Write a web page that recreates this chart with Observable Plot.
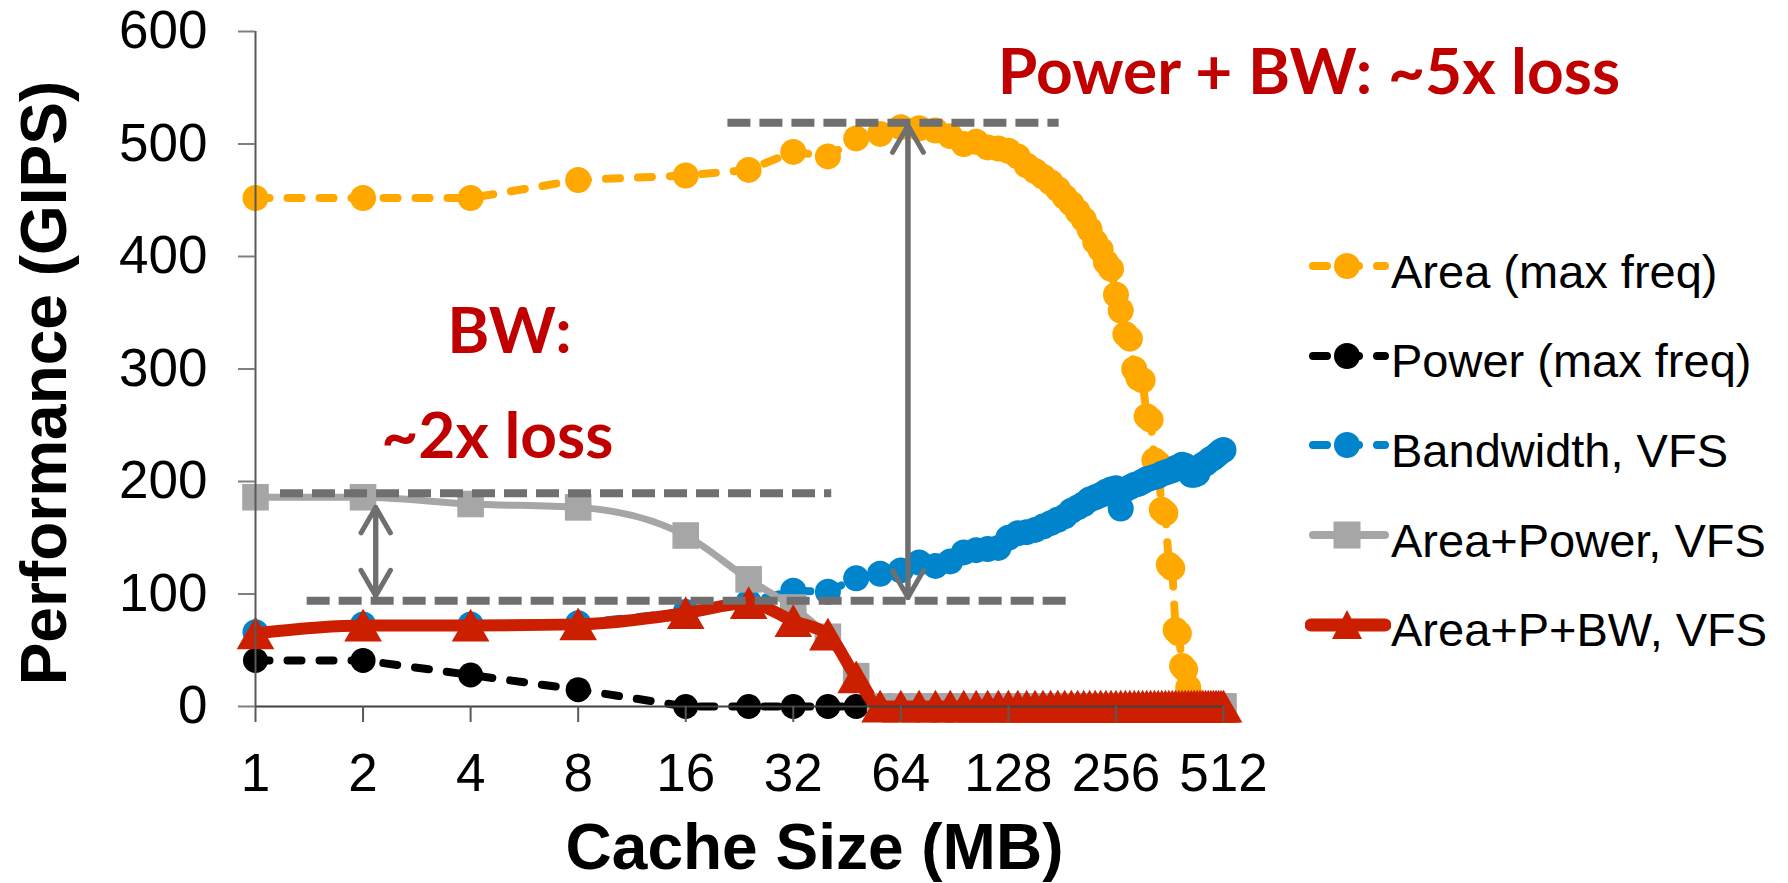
<!DOCTYPE html>
<html>
<head>
<meta charset="utf-8">
<script src="https://cdn.jsdelivr.net/npm/d3@7"></script>
<script src="https://cdn.jsdelivr.net/npm/@observablehq/plot@0.6"></script>
<style>
  html, body { margin: 0; padding: 0; background: #ffffff; }
  #wrap { position: relative; width: 1788px; height: 883px; overflow: hidden; font-family: "Liberation Sans", Arial, sans-serif; }
  .item { position: absolute; left: 1305px; height: 60px; display: flex; align-items: center; white-space: nowrap; }
  .item span { font-size: 47px; color: #000; position: relative; top: 5px; }
  .item svg { display: block; }
</style>
</head>
<body>
<div id="wrap"></div>
<script>
// ---- data ----
const cacheSizes = [1, 2, 4, 8, 16,
  24, 32, 40, 48, 56, 64, 72, 80, 88, 96,
  104, 112, 120, 128, 136, 144, 152, 160, 168, 176,
  184, 192, 200, 208, 216, 224, 232, 240, 248, 256,
  264, 272, 280, 288, 296, 304, 312, 320, 328, 336,
  344, 352, 360, 368, 376, 384, 392, 400, 408, 416,
  424, 432, 440, 448, 456, 464, 472, 480, 488, 496,
  504, 512];

const areaMaxFreq = [452, 452, 452, 468, 472,
  477, 493, 489, 505, 509, 515, 514, 512, 507, 500,
  502, 497, 496, 494, 489, 481, 476, 471, 466, 460,
  453, 447, 440, 433, 424, 413, 406, 395, 389, 366,
  352, 331, 327, 300, 292, 290, 258, 255, 219, 216,
  175, 172, 126, 123, 68, 65, 36, 33, 17, 8,
  0, 0, 0, 0, 0, 0, 0, 0, 0, 0,
  0, 0];

const powerSizes = [1, 2, 4, 8, 16, 24, 32, 40, 48];
const powerMaxFreq = [41, 41, 28, 15, 0, 0, 0, 0, 0];

const bandwidthVFS = [66, 73, 73, 74, 84,
  93, 103, 102, 114, 118, 121, 128, 125, 129, 137,
  139, 140, 141, 150, 154, 155, 157, 160, 163, 166,
  169, 174, 177, 180, 184, 186, 188, 191, 193, 194,
  176, 193, 195, 197, 198, 200, 202, 203, 204, 205,
  207, 208, 209, 210, 212, 213, 215, 214, 209, 206,
  206, 207, 212, 215, 216, 218, 220, 221, 223, 225,
  227, 228];

const areaPowerVFS = [186, 186, 180, 177, 152,
  113, 88, 62, 27, 0, 0, 0, 0, 0, 0,
  0, 0, 0, 0, 0, 0, 0, 0, 0, 0,
  0, 0, 0, 0, 0, 0, 0, 0, 0, 0,
  0, 0, 0, 0, 0, 0, 0, 0, 0, 0,
  0, 0, 0, 0, 0, 0, 0, 0, 0, 0,
  0, 0, 0, 0, 0, 0, 0, 0, 0, 0,
  0, 0];

const areaPBwVFS = [65, 72, 72, 73, 83,
  92, 76, 64, 26, 0, 0, 0, 0, 0, 0,
  0, 0, 0, 0, 0, 0, 0, 0, 0, 0,
  0, 0, 0, 0, 0, 0, 0, 0, 0, 0,
  0, 0, 0, 0, 0, 0, 0, 0, 0, 0,
  0, 0, 0, 0, 0, 0, 0, 0, 0, 0,
  0, 0, 0, 0, 0, 0, 0, 0, 0, 0,
  0, 0];

const seriesNames = ["Area (max freq)", "Power (max freq)", "Bandwidth, VFS", "Area+Power, VFS", "Area+P+BW, VFS"];
const xTicks = [1, 2, 4, 8, 16, 32, 64, 128, 256, 512];
const yTicks = [0, 100, 200, 300, 400, 500, 600];
const xTitle = "Cache Size (MB)";
const yTitle = "Performance (GIPS)";

// reference (dashed) levels and arrows, in data units
const refLevels = [519, 189.5, 94];
const refFrom = [21, 1.175, 1.395];
const refTo = [177.5, 41, 187];
const arrowX = [2.17, 67];
const arrowLow = [98.4, 97];
const arrowHigh = [177, 516.4];
const noteTexts = ["Power + BW: ~5x loss", "BW:", "~2x loss"];
const noteX = [888, 5.14, 4.75];
const noteY = [563, 332, 239];

// ---- styles ----
const colors = ["#FFA800", "#000000", "#0084CC", "#A6A6A6", "#CC1F00"];
const annoColor = "#6F6F6F";
const noteColor = "#C00000";
const noteWidths = {"Power + BW: ~5x loss": 656, "BW:": 122, "~2x loss": 240};

// ---- tables ----
const rows = (xs, ys) => xs.map((x, i) => ({x, y: ys[i]}));
const orange = rows(cacheSizes, areaMaxFreq);
const black = rows(powerSizes, powerMaxFreq);
const blue = rows(cacheSizes, bandwidthVFS);
const gray = rows(cacheSizes, areaPowerVFS);
const red = rows(cacheSizes, areaPBwVFS);
const refs = refLevels.map((y, i) => ({y, x1: refFrom[i], x2: refTo[i]}));
const arrowsUp = arrowX.map((x, i) => ({x, y1: arrowLow[i], y2: arrowHigh[i]}));
const arrowsDown = arrowX.map((x, i) => ({x, y1: arrowHigh[i], y2: arrowLow[i]}));
const notes = noteTexts.map((t, i) => ({text: t, x: noteX[i], y: noteY[i]}));

const dashed = {strokeWidth: 8, strokeDasharray: "14,18", strokeLinecap: "round"};

const chart = Plot.plot({
  width: 1788,
  height: 883,
  marginLeft: 255,
  marginRight: 565,
  marginTop: 31,
  marginBottom: 177,
  style: {fontFamily: "'Liberation Sans', Arial, sans-serif", background: "#ffffff", color: "#000"},
  x: {type: "log", base: 2, domain: [1, 512]},
  y: {domain: [0, 600]},
  marks: [
    // series (Excel order)
    Plot.line(orange, {x: "x", y: "y", stroke: colors[0], ...dashed}),
    Plot.dot(orange, {x: "x", y: "y", r: 13, fill: colors[0]}),
    Plot.line(black, {x: "x", y: "y", stroke: colors[1], ...dashed}),
    Plot.dot(black, {x: "x", y: "y", r: 12.5, fill: colors[1]}),
    Plot.line(blue, {x: "x", y: "y", stroke: colors[2], ...dashed}),
    Plot.dot(blue, {x: "x", y: "y", r: 13, fill: colors[2]}),
    Plot.line(gray, {x: "x", y: "y", stroke: colors[3], strokeWidth: 7, curve: "monotone-x"}),
    Plot.dot(gray, {x: "x", y: "y", r: 15, symbol: "square", fill: colors[3]}),
    Plot.line(red, {x: "x", y: "y", stroke: colors[4], strokeWidth: 12, curve: "monotone-x"}),
    Plot.dot(red, {x: "x", y: "y", r: 14, symbol: "triangle", fill: colors[4], dy: 5}),
    // axes lines
    Plot.ruleX([1], {y1: 0, y2: 600, stroke: "#595959", strokeWidth: 2}),
    Plot.ruleY([0], {x1: 1, x2: 512, stroke: "#404040", strokeWidth: 2}),
    Plot.axisX({ticks: xTicks, tickFormat: d => String(d), tickSize: 16, tickPadding: 31, fontSize: 53, label: null, stroke: "#595959", strokeWidth: 2}),
    Plot.axisY({ticks: yTicks, tickFormat: d => String(d), tickSize: 17, tickPadding: 31, fontSize: 53, label: null, stroke: "#7f7f7f", strokeWidth: 2}),
    // annotations
    Plot.ruleY(refs, {y: "y", x1: "x1", x2: "x2", stroke: annoColor, strokeWidth: 8, strokeDasharray: "23,9"}),
    Plot.arrow(arrowsUp, {x1: "x", x2: "x", y1: "y1", y2: "y2", stroke: annoColor, strokeWidth: 5, headLength: 9.3, headAngle: 60, strokeLinecap: "round", strokeLinejoin: "round"}),
    Plot.arrow(arrowsDown, {x1: "x", x2: "x", y1: "y1", y2: "y2", stroke: annoColor, strokeWidth: 5, headLength: 9.3, headAngle: 60, strokeLinecap: "round", strokeLinejoin: "round"}),
    Plot.text(notes, {x: "x", y: "y", text: "text", fill: noteColor, fontSize: 64, fontWeight: "bold", fontFamily: "Lato, 'Open Sans', sans-serif", ariaLabel: "notes"}),
    // titles
    Plot.text([xTitle], {frameAnchor: "bottom", lineAnchor: "middle", textAnchor: "middle", dx: 75, dy: 142, fontSize: 64, fontWeight: "bold"}),
    Plot.text([yTitle], {frameAnchor: "left", lineAnchor: "middle", textAnchor: "middle", rotate: -90, dx: -210, dy: 14, fontSize: 64, fontWeight: "bold"})
  ]
});

// fit the red annotation texts to the widths seen in the reference
chart.querySelectorAll('g[aria-label="notes"] text').forEach(t => {
  const w = noteWidths[t.textContent];
  if (w) { t.setAttribute("textLength", w); t.setAttribute("lengthAdjust", "spacingAndGlyphs"); }
});

const wrap = document.getElementById("wrap");
wrap.appendChild(chart);

// ---- legend (right side) ----
function swatch(i) {
  const c = colors[i];
  const ns = "http://www.w3.org/2000/svg";
  const s = document.createElementNS(ns, "svg");
  s.setAttribute("width", 86); s.setAttribute("height", 60);
  const line = document.createElementNS(ns, "line");
  line.setAttribute("y1", 30); line.setAttribute("y2", 30);
  line.setAttribute("stroke", c);
  line.setAttribute("stroke-linecap", "round");
  if (i < 3) {
    line.setAttribute("x1", 8); line.setAttribute("x2", 80);
    line.setAttribute("stroke-width", 8);
    line.setAttribute("stroke-dasharray", "14,18");
  } else if (i === 3) {
    line.setAttribute("x1", 8); line.setAttribute("x2", 80);
    line.setAttribute("stroke-width", 8);
  } else {
    line.setAttribute("x1", 6); line.setAttribute("x2", 80);
    line.setAttribute("stroke-width", 13);
  }
  s.appendChild(line);
  let m;
  if (i < 3) {
    m = document.createElementNS(ns, "circle");
    m.setAttribute("cx", 42); m.setAttribute("cy", 30); m.setAttribute("r", 13);
  } else if (i === 3) {
    m = document.createElementNS(ns, "rect");
    m.setAttribute("x", 28.5); m.setAttribute("y", 16.5); m.setAttribute("width", 27); m.setAttribute("height", 27);
  } else {
    m = document.createElementNS(ns, "polygon");
    m.setAttribute("points", "42,15 27,44 57,44");
  }
  m.setAttribute("fill", c);
  s.appendChild(m);
  return s;
}
seriesNames.forEach((name, i) => {
  const item = document.createElement("div");
  item.className = "item";
  item.style.top = (236 + i * 89.7) + "px";
  item.appendChild(swatch(i));
  const span = document.createElement("span");
  span.textContent = name;
  item.appendChild(span);
  wrap.appendChild(item);
});
</script>
</body>
</html>
